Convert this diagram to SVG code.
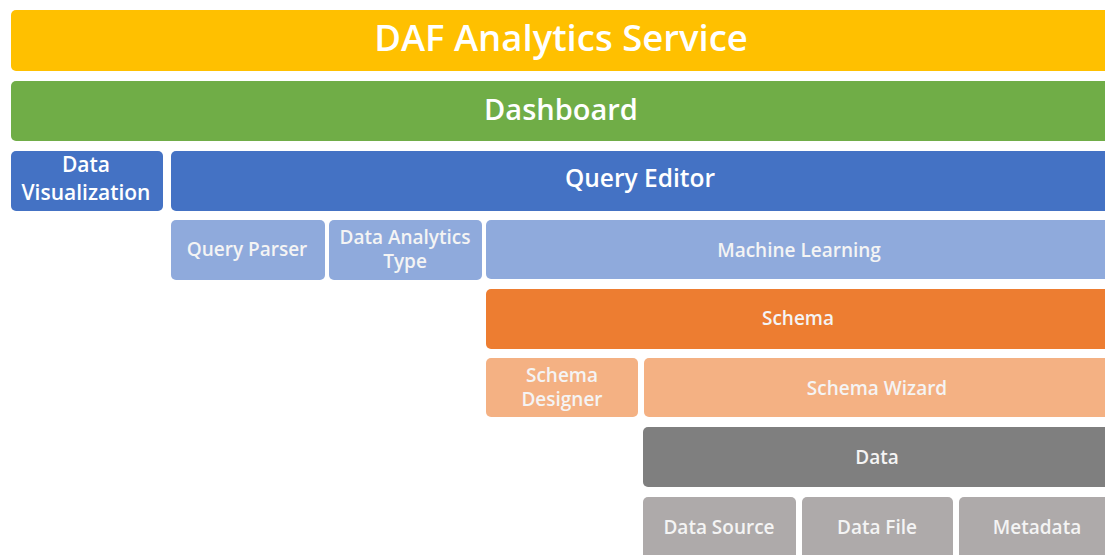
<svg xmlns="http://www.w3.org/2000/svg" width="1105" height="555" viewBox="0 0 1105 555">
  <style>
    .box { stroke: none; }
    .t { font-family: "Open Sans", "Liberation Sans", sans-serif; font-weight: 600; text-anchor: middle; fill: #ffffff; }
    .soft { fill: #f4f4f4; font-size: 19px; }
    .yellow { fill: #FFC000; }
    .green { fill: #70AD47; }
    .blue { fill: #4472C4; }
    .lblue { fill: #8FAADC; }
    .orange { fill: #ED7D31; }
    .lorange { fill: #F4B183; }
    .gray { fill: #7F7F7F; }
    .lgray { fill: #AEAAAA; }
  </style>
  <rect width="1105" height="555" fill="#ffffff"/>

  <!-- top service layer -->
  <g id="daf-analytics-service">
    <rect class="box yellow" x="11" y="10" width="1100" height="61" rx="5"/>
    <text class="t" x="561" y="51" font-size="36.5">DAF Analytics Service</text>
  </g>

  <g id="dashboard">
    <rect class="box green" x="11" y="81" width="1100" height="60" rx="5"/>
    <text class="t" x="561" y="120" font-size="29">Dashboard</text>
  </g>

  <g id="data-visualization">
    <rect class="box blue" x="11" y="151" width="152" height="60" rx="5"/>
    <text class="t" x="86" y="172" font-size="21">Data</text>
    <text class="t" x="86" y="200" font-size="21">Visualization</text>
  </g>

  <g id="query-editor">
    <rect class="box blue" x="171" y="151" width="940" height="60" rx="5"/>
    <text class="t" x="640" y="187" font-size="24.5">Query Editor</text>
  </g>

  <!-- query editor components -->
  <g id="query-parser">
    <rect class="box lblue" x="171" y="220" width="154" height="60" rx="5"/>
    <text class="t soft" x="247" y="256">Query Parser</text>
  </g>

  <g id="data-analytics-type">
    <rect class="box lblue" x="329" y="220" width="153" height="60" rx="5"/>
    <text class="t soft" x="405" y="244">Data Analytics</text>
    <text class="t soft" x="405" y="268">Type</text>
  </g>

  <g id="machine-learning">
    <rect class="box lblue" x="486" y="220" width="625" height="59" rx="5"/>
    <text class="t soft" x="799" y="257">Machine Learning</text>
  </g>

  <!-- schema layer -->
  <g id="schema">
    <rect class="box orange" x="486" y="289" width="625" height="60" rx="5"/>
    <text class="t soft" x="798" y="325">Schema</text>
  </g>

  <g id="schema-designer">
    <rect class="box lorange" x="486" y="358" width="152" height="59" rx="5"/>
    <text class="t soft" x="562" y="382">Schema</text>
    <text class="t soft" x="562" y="406">Designer</text>
  </g>

  <g id="schema-wizard">
    <rect class="box lorange" x="644" y="358" width="467" height="59" rx="5"/>
    <text class="t soft" x="877" y="395">Schema Wizard</text>
  </g>

  <!-- data layer -->
  <g id="data">
    <rect class="box gray" x="643" y="427" width="468" height="60" rx="5"/>
    <text class="t soft" x="877" y="464">Data</text>
  </g>

  <g id="data-source">
    <rect class="box lgray" x="643" y="497" width="153" height="65" rx="5"/>
    <text class="t soft" x="719" y="534">Data Source</text>
  </g>

  <g id="data-file">
    <rect class="box lgray" x="802" y="497" width="151" height="65" rx="5"/>
    <text class="t soft" x="877" y="534">Data File</text>
  </g>

  <g id="metadata">
    <rect class="box lgray" x="959" y="497" width="152" height="65" rx="5"/>
    <text class="t soft" x="1037" y="534">Metadata</text>
  </g>

  <g id="connectors"/>
</svg>
